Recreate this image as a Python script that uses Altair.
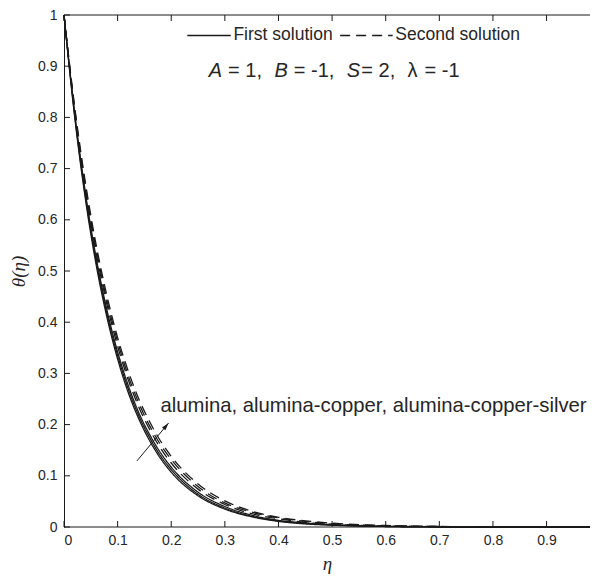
import altair as alt
import pandas as pd
import math

# ---- data ----
eta = [0, 0.02, 0.04, 0.06, 0.08, 0.10, 0.12, 0.14, 0.16, 0.18, 0.20, 0.25,
       0.30, 0.35, 0.40, 0.45, 0.50, 0.60, 0.70, 0.80, 0.90, 1.00]
first_alumina = [1.000, 0.800, 0.640, 0.512, 0.410, 0.328, 0.262, 0.210, 0.168, 0.134, 0.107,
                 0.061, 0.035, 0.020, 0.011, 0.006, 0.0035, 0.001, 0.000, 0.000, 0.000, 0.000]
first_cu = [1.000, 0.804, 0.646, 0.519, 0.417, 0.335, 0.269, 0.216, 0.174, 0.139, 0.112,
            0.064, 0.037, 0.021, 0.012, 0.007, 0.004, 0.001, 0.000, 0.000, 0.000, 0.000]
first_ag = [1.000, 0.808, 0.652, 0.526, 0.424, 0.342, 0.276, 0.222, 0.180, 0.145, 0.117,
            0.068, 0.040, 0.023, 0.013, 0.008, 0.0045, 0.0015, 0.0005, 0.000, 0.000, 0.000]
second_alumina = [1.000, 0.812, 0.660, 0.535, 0.435, 0.353, 0.287, 0.233, 0.190, 0.154, 0.125,
                  0.074, 0.044, 0.026, 0.016, 0.009, 0.0055, 0.002, 0.001, 0.000, 0.000, 0.000]
second_cu = [1.000, 0.816, 0.666, 0.543, 0.443, 0.362, 0.295, 0.241, 0.197, 0.161, 0.132,
             0.079, 0.047, 0.029, 0.018, 0.011, 0.0065, 0.0025, 0.001, 0.000, 0.000, 0.000]
second_ag = [1.000, 0.820, 0.672, 0.551, 0.452, 0.370, 0.304, 0.249, 0.205, 0.168, 0.138,
             0.084, 0.051, 0.031, 0.019, 0.012, 0.0075, 0.003, 0.001, 0.000, 0.000, 0.000]

x_ticks = [0, 0.1, 0.2, 0.3, 0.4, 0.5, 0.6, 0.7, 0.8, 0.9, 1.0]
y_ticks = [0, 0.1, 0.2, 0.3, 0.4, 0.5, 0.6, 0.7, 0.8, 0.9, 1.0]

legend_labels = ["First solution", "Second solution"]
annotation = "alumina, alumina-copper, alumina-copper-silver"
NB = "\u00a0"
# (text, style, gap after in em)
param_parts = [("A", "italic", 0.30), ("=" + NB + "1,", "normal", 0.62),
               ("B", "italic", 0.30), ("=" + NB + "-1,", "normal", 0.62),
               ("S", "italic", 0.06), ("=" + NB + "2,", "normal", 0.62),
               ("\u03bb", "normal", 0.30), ("=" + NB + "-1", "normal", 0.0)]

# ---- build table ----
series = [("alumina", "First", first_alumina), ("alumina-copper", "First", first_cu),
          ("alumina-copper-silver", "First", first_ag), ("alumina", "Second", second_alumina),
          ("alumina-copper", "Second", second_cu), ("alumina-copper-silver", "Second", second_ag)]
rows = []
for name, kind, vals in series:
    for e, t in zip(eta, vals):
        rows.append({"eta": e, "theta": t, "series": kind + " " + name, "kind": kind})
df = pd.DataFrame(rows)

# The reference's axes run past the right edge of the picture: the visible part
# of the x range ends a little before 1.
X_VISIBLE = 0.981
W, H = 526, 512
INK = "#1a1a1a"
TXT = "#262626"
DASH = [10, 6]
xs = alt.Scale(domain=[0, X_VISIBLE], nice=False)
ys = alt.Scale(domain=[0, 1], nice=False)

lines = alt.Chart(df).mark_line(strokeWidth=1.3, color=INK, interpolate="monotone").encode(
    x=alt.X("eta:Q", scale=xs,
            axis=alt.Axis(values=x_ticks[:-1], format="~g", ticks=False, grid=False, domain=False,
                          title="\u03b7", labelPadding=6)),
    y=alt.Y("theta:Q", scale=ys,
            axis=alt.Axis(values=y_ticks, format="~g", ticks=False, grid=False,
                          title="\u03b8(\u03b7)", labelPadding=7)),
    detail="series:N",
    strokeDash=alt.StrokeDash("kind:N", scale=alt.Scale(domain=["First", "Second"],
                                                         range=[[1, 0], DASH]), legend=None),
)

one = pd.DataFrame({"a": [0]})
# bottom axis line and top box line (run to the edge, as in the reference)
bottom_line = alt.Chart(one).mark_rule(color=INK, strokeWidth=1).encode(
    x=alt.datum(0), x2=alt.datum(1), y=alt.datum(0))
top_line = alt.Chart(one).mark_rule(color=INK, strokeWidth=1).encode(
    x=alt.datum(0), x2=alt.datum(1), y=alt.datum(1))

# inward ticks (MATLAB style)
xt = pd.DataFrame({"v": x_ticks})
yt = pd.DataFrame({"v": y_ticks})
tick_len_y = 6 / H
tick_len_x = 6 * X_VISIBLE / W
tb = alt.Chart(xt).mark_rule(color=INK, strokeWidth=1).encode(
    x="v:Q", y=alt.datum(0), y2=alt.datum(tick_len_y))
tt = alt.Chart(xt).mark_rule(color=INK, strokeWidth=1).encode(
    x="v:Q", y=alt.datum(1), y2=alt.datum(1 - tick_len_y))
tl = alt.Chart(yt).mark_rule(color=INK, strokeWidth=1).encode(
    y="v:Q", x=alt.datum(0), x2=alt.datum(tick_len_x))

# legend
leg_y = 0.960
leg_solid = alt.Chart(one).mark_rule(color=INK, strokeWidth=1.3).encode(
    x=alt.datum(0.230), x2=alt.datum(0.311), y=alt.datum(leg_y))
leg_dash = alt.Chart(one).mark_rule(color=INK, strokeWidth=1.3, strokeDash=DASH).encode(
    x=alt.datum(0.515), x2=alt.datum(0.613), y=alt.datum(leg_y))
leg_t1 = alt.Chart(one).mark_text(
    align="left", baseline="middle", font="Liberation Sans", fontSize=17.5, color=TXT).encode(
    x=alt.datum(0.316), y=alt.datum(leg_y), text=alt.value(legend_labels[0]))
leg_t2 = alt.Chart(one).mark_text(
    align="left", baseline="middle", font="Liberation Sans", fontSize=17.5, color=TXT).encode(
    x=alt.datum(0.618), y=alt.datum(leg_y), text=alt.value(legend_labels[1]))

# parameter line, mixed italic
em = {"A": .667, "B": .667, "S": .667, NB: .278, "=": .584, "1": .556, "2": .556,
      ",": .278, "-": .333, "\u03bb": .55}
fs = 20
layers_params = []
off = 0.0
for txt, style, gap in param_parts:
    layers_params.append(
        alt.Chart(one).mark_text(
            align="left", baseline="middle", font="Liberation Sans", fontSize=fs,
            fontStyle=style, color=TXT, dx=off).encode(
            x=alt.datum(0.270), y=alt.datum(0.890), text=alt.value(txt)))
    off += (sum(em.get(c, .556) for c in txt) + gap) * fs

# annotation text and arrow
ann = alt.Chart(one).mark_text(
    align="left", baseline="middle", font="Liberation Sans", fontSize=20.3, color=TXT).encode(
    x=alt.datum(0.180), y=alt.datum(0.236), text=alt.value(annotation))
ax0, ay0, ax1, ay1 = 0.136, 0.129, 0.195, 0.203
arrow = alt.Chart(one).mark_rule(color=INK, strokeWidth=1).encode(
    x=alt.datum(ax0), y=alt.datum(ay0), x2=alt.datum(ax1), y2=alt.datum(ay1))
ang = math.degrees(math.atan2((ax1 - ax0) * W / X_VISIBLE, (ay1 - ay0) * H))
head = alt.Chart(one).mark_point(
    shape="M0,0 L-0.55,1.9 L0.55,1.9 Z", filled=True, color=INK, size=64, opacity=1,
    angle=ang).encode(x=alt.datum(ax1), y=alt.datum(ay1))

chart = alt.layer(lines, bottom_line, top_line, tb, tt, tl, leg_solid, leg_dash, leg_t1, leg_t2,
                  *layers_params, ann, arrow, head).properties(
    width=W, height=H,
    autosize=alt.AutoSizeParams(type="none"),
    padding={"left": 56, "top": 7, "right": 0, "bottom": 47},
).configure_view(stroke=None).configure_axis(
    labelFont="Liberation Sans", labelFontSize=14, labelColor=TXT,
    domainColor=INK, domainWidth=1,
    titleFont="Liberation Serif", titleFontStyle="italic", titleFontWeight="normal",
    titleFontSize=19, titleColor=TXT,
).configure_axisX(titlePadding=7).configure_axisY(titlePadding=9)

chart.save("out.html", embed_options={"renderer": "svg", "actions": False})
